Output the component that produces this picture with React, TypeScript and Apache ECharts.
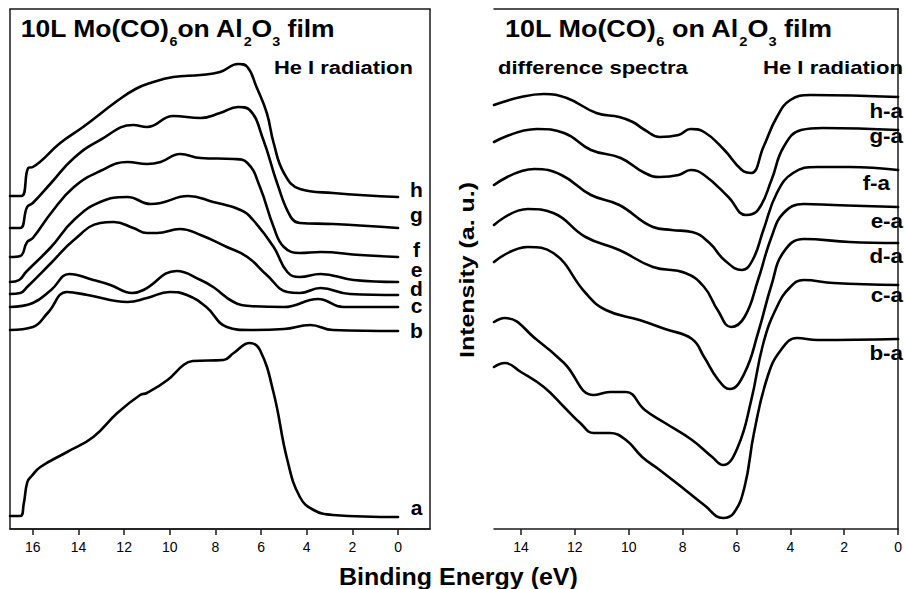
import React, { useEffect, useRef } from 'react';
import * as echarts from 'echarts';

// ---------- data (binding energy eV, intensity a.u.) ----------
const leftTickValues = [0, 2, 4, 6, 8, 10, 12, 14, 16];

const curveA: [number, number][] = [[17.0,13],[16.55,13],[16.4,25],[16.24,47],[16.05,53],[15.67,62],[14.5,77],[13.35,92],[12.3,116],[11.3,134],[11.0,136],[10.1,149],[9.4,164],[9.0,168],[7.65,169],[7.2,176],[6.5,186],[6.05,179],[5.45,136],[4.85,69],[4.3,32],[3.7,19],[2.85,14],[0,12]];
const curveB: [number, number][] = [[17,199],[16,202],[15.35,216],[14.5,237],[13.6,234],[11.85,227],[11.0,231],[10.0,237],[9.25,234],[8.4,222],[7.5,202],[6.5,199],[5.0,200],[3.85,204],[2.85,199],[0,198]];
const curveC: [number, number][] = [[17,222],[16,226],[15.2,239],[14.4,255],[13.35,249],[12.6,244],[11.65,236],[11.15,239],[9.7,258],[8.65,249],[8.1,242],[7.2,227],[6.5,223],[5.0,222],[3.5,230],[2.4,222],[0,222]];
const curveD: [number, number][] = [[17,235],[16.55,236],[16.25,242],[15.2,266],[14.2,289],[13.05,306],[12.45,307],[11.6,301],[11.0,296],[10.55,296],[9.55,300],[8.65,294],[7.5,282],[6.6,272],[5.75,254],[4.85,237],[4.3,236],[3.4,241],[2.1,235],[0,234]];
const curveE: [number, number][] = [[17,247],[16.6,249],[16.3,257],[15.2,282],[14.2,309],[13.05,327],[11.85,332],[10.85,325],[10.4,326],[9.2,333],[8.1,327],[6.9,319],[6.35,309],[5.45,282],[4.85,257],[4.3,252],[3.4,255],[1.95,249],[0,247]];
const curveF: [number, number][] = [[17,272],[16.55,273],[16.25,287],[16.0,291],[15.2,316],[14.2,342],[13.05,358],[11.85,367],[11.0,365],[10.4,367],[9.55,375],[8.65,371],[7.2,370],[6.6,366],[6.05,342],[5.45,302],[5.0,282],[4.3,276],[3.4,277],[1.65,274],[0,272]];
const curveG: [number, number][] = [[17,301],[16.55,301],[16.25,322],[16.0,326],[15.2,346],[14.2,371],[13.05,389],[11.6,404],[11.0,402],[9.85,413],[8.65,411],[7.8,416],[7.0,422],[6.5,419],[5.9,389],[5.3,346],[4.7,312],[4.3,306],[2.85,305],[0,301]];
const curveH: [number, number][] = [[17,333],[16.5,333],[16.2,361],[16.0,362],[14.8,386],[13.8,402],[12.25,429],[11.5,440],[10.85,446],[9.85,452],[8.65,454],[7.8,457],[7.0,465],[6.6,462],[6.2,442],[5.75,416],[5.45,386],[5.0,356],[4.3,340],[2.85,336],[0,332]];

const diffHA: [number, number][] = [[15,424],[14,432],[13.15,435],[12.3,431],[11.2,416],[10.35,412],[9.85,407],[9.4,399],[8.85,392],[8.15,394],[7.7,400],[7.2,397],[6.45,379],[5.8,359],[5.45,356],[5.0,382],[4.5,412],[4.0,429],[3.25,434],[0,432]];
const diffGA: [number, number][] = [[15,387],[13.4,400],[12.4,396],[11.4,379],[10.3,371],[9.4,356],[8.85,352],[8.15,354],[7.7,359],[7.2,354],[6.3,332],[5.65,314],[5.2,319],[4.7,349],[4.25,382],[3.6,399],[2.8,401],[0,399]];
const diffFA: [number, number][] = [[15,344],[13.5,360],[12.5,354],[11.4,334],[10.35,324],[9.1,302],[8.4,299],[7.65,297],[7.0,286],[6.45,269],[5.8,259],[5.4,269],[5.0,299],[4.5,336],[3.9,356],[3.0,362],[1.8,362],[0,359]];
const diffEA: [number, number][] = [[15,304],[13.75,320],[12.8,316],[11.6,292],[10.35,279],[9.1,262],[7.9,256],[7.2,242],[6.7,219],[6.2,202],[5.7,212],[5.2,249],[4.7,292],[4.25,316],[3.5,325],[2.4,324],[0,322]];
const diffDA: [number, number][] = [[15,267],[13.75,282],[12.8,276],[11.6,236],[10.85,219],[9.6,209],[8.65,200],[7.65,190],[7.2,172],[6.7,150],[6.25,140],[5.7,156],[5.2,196],[4.7,244],[4.25,277],[3.5,290],[1.8,287],[0,286]];
const diffCA: [number, number][] = [[15,207],[14.6,211],[13.4,189],[12.4,166],[11.3,134],[10.7,137],[10.1,137],[9.4,119],[8.65,106],[7.65,89],[6.9,72],[6.5,64],[5.95,82],[5.45,129],[5.0,186],[4.5,222],[4.0,242],[3.5,249],[2.4,246],[0,244]];
const diffBA: [number, number][] = [[15,162],[14.6,166],[14.0,157],[13.15,142],[12.4,122],[11.8,106],[11.3,96],[10.7,96],[10.1,89],[9.5,72],[8.85,59],[7.9,39],[7.2,24],[6.5,11],[6.1,16],[5.7,42],[5.35,96],[4.85,152],[4.35,179],[3.75,191],[3.0,189],[0,190]];

const leftCurves = [curveA, curveB, curveC, curveD, curveE, curveF, curveG, curveH];
const rightCurves = [diffHA, diffGA, diffFA, diffEA, diffDA, diffCA, diffBA];

const leftLabels = ['h', 'g', 'f', 'e', 'd', 'c', 'b', 'a'];
const rightLabels = ['h-a', 'g-a', 'f-a', 'e-a', 'd-a', 'c-a', 'b-a'];

// ---------- layout ----------
const FONT = "'Liberation Sans', Arial, Helvetica, sans-serif";
const leftLabelY = [189, 214, 249, 269, 288, 305, 330, 507];
const rightLabelPos: [number, number][] = [[903, 111], [903, 136], [890, 183], [903, 221], [903, 256], [903, 295], [903, 353]];

function measure(text: string, size: number): number {
  const ctx = document.createElement('canvas').getContext('2d')!;
  ctx.font = `bold ${size}px ${FONT}`;
  return ctx.measureText(text).width;
}

function textEl(text: string, x: number, y: number, size: number, align = 'left', extra: any = {}) {
  return {
    type: 'text',
    x,
    y,
    silent: true,
    ...extra,
    style: {
      text,
      font: `bold ${size}px ${FONT}`,
      fill: '#000',
      textAlign: align,
      textVerticalAlign: 'middle',
    },
  };
}

function stretched(text: string, x: number, baseline: number, size: number, width: number, align = 'left') {
  const w = measure(text, size);
  return textEl(text, x, baseline - 0.3465 * size, size, align, { scaleX: width / w });
}

function title(pieces: { t: string; sub?: boolean }[], x: number, width: number) {
  const mainSize = 24;
  const subSize = 13;
  let off = 0;
  const children: any[] = [];
  pieces.forEach((p) => {
    const size = p.sub ? subSize : mainSize;
    const baseline = p.sub ? 46 : 37;
    children.push(textEl(p.t, off, baseline - 0.3465 * size, size));
    off += measure(p.t, size);
  });
  return { type: 'group', x, y: 0, scaleX: width / off, children };
}

function buildOption(): any {
  const lineSeries = (data: [number, number][], idx: number) => ({
    type: 'line',
    xAxisIndex: idx,
    yAxisIndex: idx,
    data,
    symbol: 'none',
    smooth: 0.45,
    silent: true,
    lineStyle: { color: '#000', width: 2.6, join: 'round', cap: 'round' },
  });

  const axisLine = { show: true, lineStyle: { color: '#1a1a1a', width: 1.5 } };
  const tickLabel = { color: '#000', fontSize: 14, fontFamily: FONT, margin: 11 };

  const graphics: any[] = [
    title([{ t: '10L Mo(CO)' }, { t: '6', sub: true }, { t: 'on Al' }, { t: '2', sub: true }, { t: 'O' }, { t: '3', sub: true }, { t: ' film' }], 20.7, 314),
    title([{ t: '10L Mo(CO)' }, { t: '6', sub: true }, { t: ' on Al' }, { t: '2', sub: true }, { t: 'O' }, { t: '3', sub: true }, { t: ' film' }], 505, 327),
    stretched('He I radiation', 274, 74, 18, 139),
    stretched('difference spectra', 498, 74, 18, 190),
    stretched('He I radiation', 763, 74, 18, 140),
    stretched('Binding Energy (eV)', 339, 585, 23, 239),
    textEl('Intensity (a. u.)', 467, 270, 21, 'center', { rotation: Math.PI / 2, scaleX: 176 / measure('Intensity (a. u.)', 21) }),
  ];
  leftLabels.forEach((l, i) => graphics.push(textEl(l, 416.5, leftLabelY[i], 21, 'center')));
  rightLabels.forEach((l, i) => graphics.push(textEl(l, rightLabelPos[i][0], rightLabelPos[i][1], 20, 'right', { scaleX: 1.12 })));

  return {
    animation: false,
    backgroundColor: '#fff',
    grid: [
      { left: 10, top: 9, width: 420, height: 520, show: true, borderColor: '#1a1a1a', borderWidth: 1.5, containLabel: false },
      { left: 494, top: 9, width: 411, height: 520, containLabel: false },
    ],
    xAxis: [
      {
        gridIndex: 0, type: 'value', min: -1.4, max: 17, inverse: true,
        axisLine, splitLine: { show: false },
        axisTick: { show: true, length: 6, customValues: leftTickValues, lineStyle: { color: '#1a1a1a', width: 1.5 } },
        axisLabel: { ...tickLabel, customValues: leftTickValues },
      },
      {
        gridIndex: 1, type: 'value', min: 0, max: 15, interval: 2, inverse: true,
        axisLine, splitLine: { show: false },
        axisTick: { show: true, length: 6, lineStyle: { color: '#1a1a1a', width: 1.5 } },
        axisLabel: { ...tickLabel, showMinLabel: true, showMaxLabel: false, alignMinLabel: 'center', alignMaxLabel: 'center' },
      },
      {
        gridIndex: 1, type: 'value', min: 0, max: 15, inverse: true, position: 'top',
        axisLine, axisTick: { show: false }, axisLabel: { show: false }, splitLine: { show: false },
      },
    ],
    yAxis: [
      { gridIndex: 0, type: 'value', min: 0, max: 520, show: false },
      {
        gridIndex: 1, type: 'value', min: 0, max: 520,
        axisLine, axisTick: { show: false }, axisLabel: { show: false }, splitLine: { show: false },
      },
    ],
    series: [
      ...leftCurves.map((c) => lineSeries(c, 0)),
      ...rightCurves.map((c) => lineSeries(c, 1)),
    ],
    graphic: graphics,
  };
}

export default function App() {
  const ref = useRef<HTMLDivElement>(null);
  useEffect(() => {
    const chart = echarts.init(ref.current!, null, { renderer: 'svg' });
    chart.setOption(buildOption());
    return () => chart.dispose();
  }, []);
  return (
    <div
      ref={ref}
      style={{ position: 'absolute', left: 0, top: 0, width: 905, height: 589, background: '#fff' }}
    />
  );
}
